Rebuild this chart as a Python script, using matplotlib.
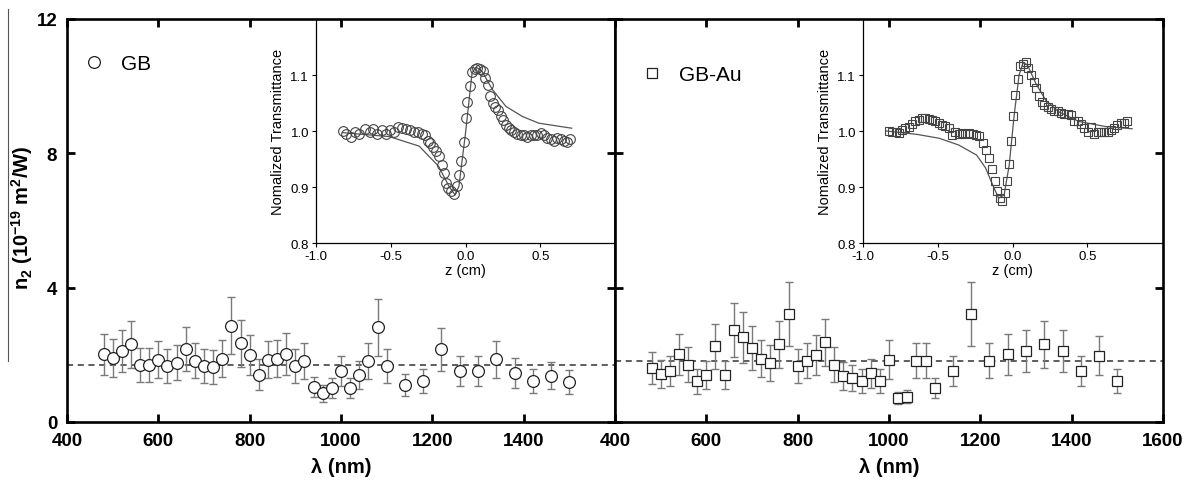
import matplotlib
matplotlib.use("Agg")
import matplotlib.pyplot as plt
from matplotlib.lines import Line2D

plt.rcParams['font.family'] = ['Liberation Sans', 'DejaVu Sans']
plt.rcParams['mathtext.fontset'] = 'custom'
plt.rcParams['mathtext.rm'] = 'Liberation Sans'
plt.rcParams['mathtext.bf'] = 'Liberation Sans:bold'

# ---- main panels: n2 vs wavelength ----
wl_gb = [480, 500, 520, 540, 560, 580, 600, 620, 640, 660, 680, 700, 720, 740,
         760, 780, 800, 820, 840, 860, 880, 900, 920, 940, 960, 980, 1000, 1020,
         1040, 1060, 1080, 1100, 1140, 1180, 1220, 1260, 1300, 1340, 1380, 1420,
         1460, 1500]
n2_gb = [2.01, 1.90, 2.12, 2.31, 1.70, 1.70, 1.86, 1.66, 1.76, 2.17, 1.83, 1.66,
         1.63, 1.88, 2.87, 2.35, 1.99, 1.41, 1.85, 1.88, 2.02, 1.66, 1.82, 1.04,
         0.85, 1.01, 1.51, 1.01, 1.41, 1.82, 2.82, 1.67, 1.11, 1.21, 2.17, 1.51,
         1.51, 1.87, 1.45, 1.21, 1.38, 1.20]
err_gb = [0.61, 0.57, 0.62, 0.69, 0.50, 0.50, 0.56, 0.50, 0.52, 0.65, 0.53, 0.50,
          0.50, 0.55, 0.86, 0.70, 0.60, 0.47, 0.55, 0.55, 0.62, 0.50, 0.54, 0.30,
          0.25, 0.30, 0.45, 0.30, 0.42, 0.54, 0.84, 0.50, 0.33, 0.36, 0.64, 0.45,
          0.45, 0.55, 0.45, 0.36, 0.41, 0.36]
mean_gb = 1.70

wl_au = [480, 500, 520, 540, 560, 580, 600, 620, 640, 660, 680, 700, 720, 740,
         760, 780, 800, 820, 840, 860, 880, 900, 920, 940, 960, 980, 1000, 1020,
         1040, 1060, 1080, 1100, 1140, 1180, 1220, 1260, 1300, 1340, 1380, 1420,
         1460, 1500]
n2_au = [1.60, 1.43, 1.53, 2.01, 1.71, 1.21, 1.41, 2.25, 1.41, 2.74, 2.52, 2.21,
         1.88, 1.76, 2.31, 3.22, 1.66, 1.83, 2.00, 2.37, 1.71, 1.36, 1.31, 1.21,
         1.45, 1.21, 1.86, 0.72, 0.75, 1.83, 1.83, 1.02, 1.52, 3.22, 1.83, 2.01,
         2.11, 2.31, 2.12, 1.52, 1.97, 1.22]
err_au = [0.47, 0.43, 0.45, 0.60, 0.52, 0.38, 0.42, 0.67, 0.42, 0.80, 0.75, 0.66,
          0.55, 0.53, 0.69, 0.96, 0.50, 0.53, 0.60, 0.69, 0.52, 0.42, 0.40, 0.36,
          0.43, 0.36, 0.57, 0.18, 0.19, 0.53, 0.53, 0.30, 0.44, 0.96, 0.53, 0.60,
          0.62, 0.69, 0.62, 0.44, 0.58, 0.36]
mean_au = 1.83

# ---- insets: z-scan traces ----
z_gb = [-0.822, -0.796, -0.767, -0.738, -0.711, -0.671, -0.640, -0.616, -0.589,
        -0.560, -0.533, -0.507, -0.480, -0.453, -0.427, -0.400, -0.373, -0.347,
        -0.320, -0.293, -0.271, -0.253, -0.236, -0.216, -0.196, -0.178, -0.160,
        -0.142, -0.129, -0.116, -0.098, -0.076, -0.058, -0.044, -0.027, -0.009,
        0.000, 0.013, 0.027, 0.044, 0.062, 0.080, 0.098, 0.116, 0.133, 0.151,
        0.164, 0.182, 0.200, 0.218, 0.236, 0.253, 0.271, 0.289, 0.307, 0.324,
        0.347, 0.369, 0.391, 0.413, 0.436, 0.458, 0.480, 0.502, 0.524, 0.547,
        0.569, 0.591, 0.613, 0.636, 0.658, 0.680, 0.698]
t_gb = [1.000, 0.995, 0.990, 0.998, 0.995, 1.004, 0.998, 1.004, 0.995, 1.001,
        0.995, 1.001, 0.999, 1.008, 1.005, 1.004, 1.002, 0.999, 0.998, 0.995,
        0.992, 0.983, 0.979, 0.971, 0.964, 0.955, 0.940, 0.925, 0.908, 0.898,
        0.892, 0.888, 0.901, 0.921, 0.946, 0.980, 1.023, 1.052, 1.080, 1.106,
        1.111, 1.112, 1.111, 1.107, 1.094, 1.082, 1.062, 1.050, 1.043, 1.037,
        1.027, 1.020, 1.011, 1.005, 1.001, 0.999, 0.995, 0.992, 0.993, 0.990,
        0.992, 0.992, 0.992, 0.996, 0.992, 0.988, 0.986, 0.983, 0.988, 0.985,
        0.983, 0.980, 0.986]
zfit_gb = [-0.82, -0.51, -0.31, -0.18, -0.11, -0.07, -0.044, 0.0, 0.044, 0.071,
           0.11, 0.18, 0.27, 0.38, 0.49, 0.71]
tfit_gb = [0.997, 0.990, 0.973, 0.937, 0.901, 0.886, 0.901, 0.996, 1.104, 1.114,
           1.107, 1.074, 1.044, 1.026, 1.014, 1.005]

z_au = [-0.827, -0.804, -0.782, -0.760, -0.738, -0.716, -0.693, -0.671, -0.649,
        -0.627, -0.604, -0.582, -0.560, -0.538, -0.516, -0.493, -0.471, -0.449,
        -0.427, -0.404, -0.382, -0.360, -0.338, -0.316, -0.289, -0.267, -0.244,
        -0.222, -0.200, -0.178, -0.156, -0.138, -0.120, -0.102, -0.084, -0.067,
        -0.049, -0.036, -0.022, -0.009, 0.004, 0.018, 0.036, 0.053, 0.071, 0.089,
        0.107, 0.124, 0.142, 0.160, 0.178, 0.196, 0.213, 0.236, 0.258, 0.280,
        0.302, 0.324, 0.347, 0.369, 0.391, 0.413, 0.436, 0.458, 0.480, 0.502,
        0.524, 0.547, 0.569, 0.591, 0.613, 0.636, 0.658, 0.680, 0.702, 0.724,
        0.747, 0.769]
t_au = [1.000, 0.998, 0.999, 0.996, 1.001, 1.005, 1.008, 1.012, 1.017, 1.020,
        1.023, 1.023, 1.021, 1.019, 1.018, 1.015, 1.011, 1.009, 1.005, 0.993,
        0.998, 0.994, 0.996, 0.994, 0.996, 0.994, 0.993, 0.991, 0.979, 0.966,
        0.951, 0.932, 0.911, 0.892, 0.881, 0.875, 0.889, 0.911, 0.941, 0.983,
        1.026, 1.064, 1.093, 1.116, 1.120, 1.123, 1.113, 1.100, 1.087, 1.076,
        1.063, 1.052, 1.046, 1.042, 1.040, 1.036, 1.036, 1.033, 1.031, 1.030,
        1.028, 1.017, 1.017, 1.012, 1.005, 0.998, 1.007, 0.994, 0.999, 0.998,
        0.998, 0.998, 1.001, 1.006, 1.011, 1.014, 1.015, 1.018]
zfit_au = [-0.844, -0.64, -0.49, -0.36, -0.24, -0.18, -0.133, -0.093, -0.056,
           -0.022, 0.011, 0.044, 0.071, 0.10, 0.156, 0.222, 0.311, 0.444, 0.622,
           0.80]
tfit_au = [1.000, 0.994, 0.987, 0.975, 0.957, 0.934, 0.904, 0.880, 0.886, 0.939,
           1.028, 1.100, 1.122, 1.118, 1.085, 1.055, 1.034, 1.017, 1.008, 1.004]

W, H = 1191, 485
fig = plt.figure(figsize=(W / 100, H / 100), dpi=100)

ax1 = fig.add_axes([67 / W, 1 - 423 / H, 548 / W, 403 / H])
ax2 = fig.add_axes([615 / W, 1 - 423 / H, 548 / W, 403 / H])


def style_main(ax):
    ax.set_xlim(400, 1600)
    ax.set_ylim(0, 12)
    ax.set_xticks(range(400, 1601, 200))
    ax.set_yticks([0, 4, 8, 12])
    ax.tick_params(direction='in', length=6, width=2, top=True, right=True,
                   labelsize=13.5, pad=7)
    for lab in ax.get_xticklabels() + ax.get_yticklabels():
        lab.set_fontweight('bold')
    for s in ax.spines.values():
        s.set_linewidth(1.9)
    ax.set_xlabel('λ (nm)', fontsize=14.5, fontweight='bold', labelpad=6)


def plot_main(ax, x, y, e, mean, marker, ms, label):
    ax.axhline(mean, color='#333333', lw=1.1, ls=(0, (4, 3)), zorder=1)
    ax.errorbar(x, y, yerr=e, fmt='none', ecolor='#7a7a7a', elinewidth=1,
                capsize=3, capthick=1, zorder=2)
    h, = ax.plot(x, y, ls='none', marker=marker, ms=ms, mfc='white',
                 mec='#222222', mew=0.9, zorder=3, label=label)
    return h


h1 = plot_main(ax1, wl_gb, n2_gb, err_gb, mean_gb, 'o', 8.5, 'GB')
h2 = plot_main(ax2, wl_au, n2_au, err_au, mean_au, 's', 7.5, 'GB-Au')
style_main(ax1)
style_main(ax2)

ax1.set_xticks(range(400, 1601, 200), ['400', '600', '800', '1000', '1200',
                                       '1400', ''], fontweight='bold')
ax2.set_yticklabels([])
ax1.set_ylabel('n$_\\mathbf{2}$ (10$^\\mathbf{-19}$ m$^\\mathbf{2}$/W)',
               fontsize=14.5, fontweight='bold')
ax1.yaxis.set_label_coords(-0.058, 0.51)

ax1.legend(handles=[h1], loc='upper left', bbox_to_anchor=(0.012, 0.933),
           frameon=False, fontsize=15, handlelength=1.2, handletextpad=0.7,
           borderaxespad=0)
ax2.legend(handles=[h2], loc='upper left', bbox_to_anchor=(0.03, 0.907),
           frameon=False, fontsize=15, handlelength=1.2, handletextpad=0.7,
           borderaxespad=0)


def make_inset(left, z, t, zf, tf, marker, ms):
    ax = fig.add_axes([left / W, 1 - 244 / H, 299 / W, 224 / H])
    ax.patch.set_alpha(0)
    ax.plot(zf, tf, color='#555555', lw=0.9, zorder=2)
    ax.plot(z, t, ls='none', marker=marker, ms=ms, mfc='none', mec='#444444',
            mew=0.8, zorder=3)
    ax.set_xlim(-1.0, 1.0)
    ax.set_ylim(0.8, 1.2)
    ax.set_xticks([-1.0, -0.5, 0.0, 0.5])
    ax.set_xticklabels(['-1.0', '-0.5', '0.0', '0.5'])
    ax.set_yticks([0.8, 0.9, 1.0, 1.1])
    ax.tick_params(direction='out', length=3, width=0.8, labelsize=9.5, pad=2)
    ax.spines['top'].set_visible(False)
    ax.spines['right'].set_visible(False)
    for s in ('left', 'bottom'):
        ax.spines[s].set_linewidth(0.9)
    ax.set_xlabel('z (cm)', fontsize=10.5, labelpad=1)
    ax.set_ylabel('Nomalized Transmittance', fontsize=10.5, labelpad=4)
    return ax


make_inset(316, z_gb, t_gb, zfit_gb, tfit_gb, 'o', 7)
make_inset(863, z_au, t_au, zfit_au, tfit_au, 's', 6)

# thin vertical rule at the left page edge
fig.add_artist(Line2D([8 / W, 8 / W], [1 - 10 / H, 1 - 362 / H],
                      color='#555555', lw=0.8))

fig.savefig('out.png', dpi=100)
